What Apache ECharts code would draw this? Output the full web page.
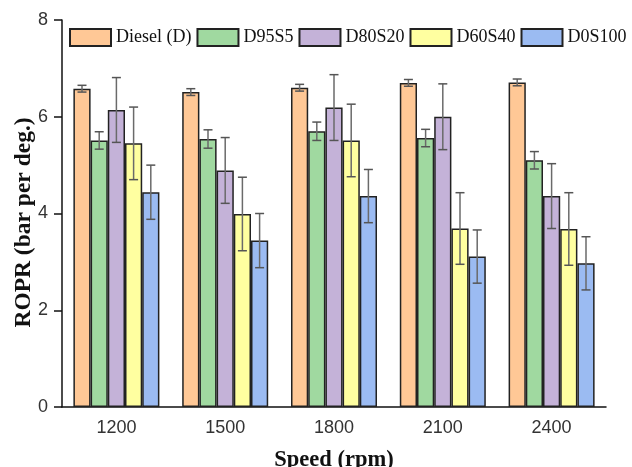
<!DOCTYPE html>
<html>
<head>
<meta charset="utf-8">
<script src="https://cdn.jsdelivr.net/npm/echarts@6/dist/echarts.min.js"></script>
<style>html,body{margin:0;padding:0;background:#fff;}#c{width:632px;height:467px;}</style>
</head>
<body>
<div id="c"></div>
<script>
var categories = ['1200', '1500', '1800', '2100', '2400'];
var seriesNames = ['Diesel (D)', 'D95S5', 'D80S20', 'D60S40', 'D0S100'];
var diesel = [6.58, 6.51, 6.60, 6.70, 6.71];
var d95s5 = [5.51, 5.54, 5.70, 5.56, 5.10];
var d80s20 = [6.14, 4.89, 6.19, 6.00, 4.36];
var d60s40 = [5.45, 3.99, 5.51, 3.69, 3.68];
var d0s100 = [4.44, 3.44, 4.36, 3.11, 2.97];
var errDiesel = [0.07, 0.07, 0.07, 0.07, 0.07];
var errD95S5 = [0.18, 0.19, 0.19, 0.18, 0.18];
var errD80S20 = [0.67, 0.68, 0.68, 0.68, 0.67];
var errD60S40 = [0.75, 0.76, 0.75, 0.74, 0.75];
var errD0S100 = [0.56, 0.56, 0.55, 0.55, 0.55];
var yTicks = [0, 2, 4, 6, 8];

var values = [diesel, d95s5, d80s20, d60s40, d0s100];
var errors = [errDiesel, errD95S5, errD80S20, errD60S40, errD0S100];
var colors = ['#FFC896', '#A0D9A0', '#C4B2D8', '#FFFFA0', '#9BBBF2'];
var BW = 17.2;

var chart = echarts.init(document.getElementById('c'));
var series = [];
values.forEach(function (vals, i) {
  series.push({
    name: seriesNames[i],
    type: 'bar',
    data: vals,
    barWidth: BW,
    barGap: '0%',
    itemStyle: { color: colors[i], borderColor: '#222', borderWidth: 1.5 },
    z: 2
  });
});
values.forEach(function (vals, i) {
  var data = vals.map(function (v, k) { return [k, v - errors[i][k], v + errors[i][k]]; });
  series.push({
    type: 'custom',
    z: 5,
    silent: true,
    data: data,
    renderItem: function (params, api) {
      var k = api.value(0);
      var lo = api.coord([k, api.value(1)]);
      var hi = api.coord([k, api.value(2)]);
      var x = lo[0] + (i - 2) * BW;
      var hw = 4.5;
      var st = { stroke: '#555', lineWidth: 1.5 };
      return {
        type: 'group',
        children: [
          { type: 'line', shape: { x1: x, y1: lo[1], x2: x, y2: hi[1] }, style: { stroke: '#6a6a6a', lineWidth: 1.5 } },
          { type: 'line', shape: { x1: x - hw, y1: lo[1], x2: x + hw, y2: lo[1] }, style: st },
          { type: 'line', shape: { x1: x - hw, y1: hi[1], x2: x + hw, y2: hi[1] }, style: st }
        ]
      };
    }
  });
});

chart.setOption({
  animation: false,
  backgroundColor: '#fff',
  grid: { left: 62, right: 26, top: 20, bottom: 60, containLabel: false, outerBoundsMode: 'none' },
  legend: {
    data: seriesNames,
    left: 64,
    top: 23,
    width: 600,
    icon: 'rect',
    itemWidth: 41,
    itemHeight: 17,
    itemGap: 5,
    textStyle: { fontFamily: 'Liberation Serif', fontSize: 18, color: '#111' }
  },
  xAxis: {
    type: 'category',
    data: categories,
    name: 'Speed (rpm)',
    nameLocation: 'middle',
    nameGap: 42,
    nameMoveOverlap: false,
    nameTextStyle: { fontFamily: 'Liberation Serif', fontWeight: 'bold', fontSize: 22.5, color: '#111' },
    axisLine: { lineStyle: { color: '#111', width: 1.5 } },
    axisTick: { alignWithLabel: true, length: 6, lineStyle: { color: '#111', width: 1.5 } },
    axisLabel: { fontFamily: 'Liberation Sans', fontSize: 18, color: '#333', margin: 12 }
  },
  yAxis: {
    type: 'value',
    min: yTicks[0],
    max: yTicks[yTicks.length - 1],
    interval: 2,
    name: 'ROPR (bar per deg.)',
    nameLocation: 'middle',
    nameGap: 26,
    nameMoveOverlap: false,
    nameTextStyle: { fontFamily: 'Liberation Serif', fontWeight: 'bold', fontSize: 23.5, color: '#111', padding: [0, 18, 0, 0] },
    axisLine: { show: true, lineStyle: { color: '#111', width: 1.5 } },
    axisTick: { show: true, length: 8, lineStyle: { color: '#111', width: 1.5 } },
    axisLabel: { fontFamily: 'Liberation Sans', fontSize: 18, color: '#333', margin: 14 },
    splitLine: { show: false }
  },
  series: series
});
</script>
</body>
</html>
